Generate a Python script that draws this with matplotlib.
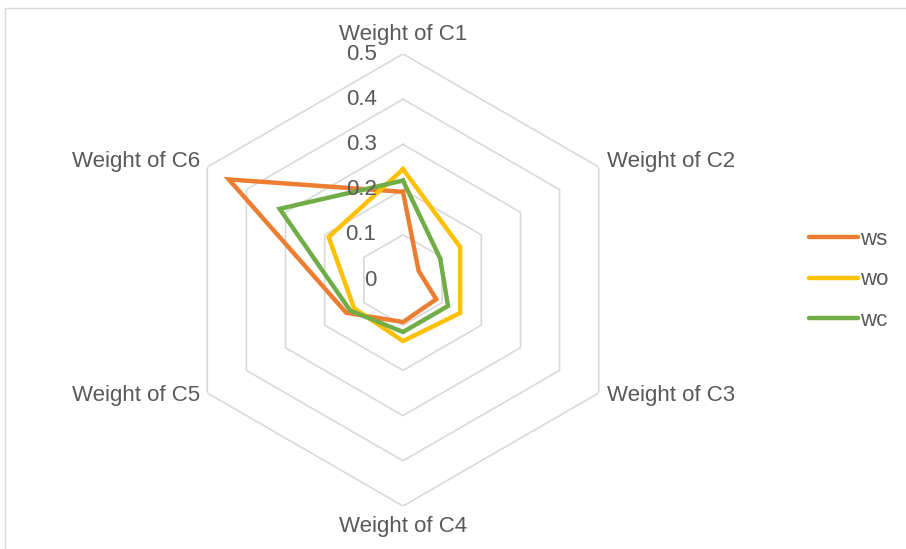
import numpy as np
import matplotlib
matplotlib.use("Agg")
import matplotlib.pyplot as plt
from matplotlib.patches import Rectangle

plt.rcParams['font.family'] = ['Liberation Sans', 'DejaVu Sans']

categories = ['Weight of C1', 'Weight of C2', 'Weight of C3',
              'Weight of C4', 'Weight of C5', 'Weight of C6']
ws = [0.195, 0.04, 0.085, 0.093, 0.145, 0.445]
wo = [0.245, 0.146, 0.146, 0.135, 0.125, 0.19]
wc = [0.22, 0.095, 0.115, 0.115, 0.135, 0.315]
ticks = [0, 0.1, 0.2, 0.3, 0.4, 0.5]
tick_labels = ['0', '0.1', '0.2', '0.3', '0.4', '0.5']

series = [('ws', ws, '#ED7D31'), ('wo', wo, '#FFC000'), ('wc', wc, '#70AD47')]
grey_text = '#595959'

fig = plt.figure(figsize=(9.06, 5.49), dpi=100)
# chart border (only top/left visible in the reference)
fig.patches.append(Rectangle((5 / 906, -0.1), 1.2, 1.1 - 8 / 549,
                             transform=fig.transFigure, fill=False,
                             edgecolor='#D9D9D9', linewidth=1))

cx, cy, R = 403 / 906, 1 - 280 / 549, 226
ax = fig.add_axes([cx - R / 906, cy - R / 549, 2 * R / 906, 2 * R / 549],
                  projection='polar')
ax.set_theta_zero_location('N')
ax.set_theta_direction(-1)
ax.set_ylim(0, 0.5)
ax.grid(False)
ax.spines['polar'].set_visible(False)
ax.set_xticks([])
ax.set_yticks([])
ax.patch.set_alpha(0)

n = len(categories)
angles = np.linspace(0, 2 * np.pi, n, endpoint=False)
closed = np.append(angles, angles[0])

# hexagonal gridlines
for t in ticks[1:]:
    ax.plot(closed, [t] * (n + 1), color='#D9D9D9', linewidth=1.2, zorder=1)

for name, vals, col in series:
    ax.plot(closed, vals + vals[:1], color=col, linewidth=3.2, label=name,
            solid_joinstyle='miter', zorder=3)

# radial value labels left of the C1 axis
for t, lab in zip(ticks, tick_labels):
    ax.annotate(lab, xy=(0, t), xytext=(-19, 0), textcoords='offset points',
                ha='right', va='center', fontsize=16, color=grey_text, zorder=4)

# category labels
offsets = [(0, 14, 'center', 'center'), (6, 4, 'left', 'center'),
           (6, -2, 'left', 'center'), (0, -15, 'center', 'center'),
           (-5, -2, 'right', 'center'), (-5, 4, 'right', 'center')]
for a, lab, (dx, dy, ha, va) in zip(angles, categories, offsets):
    ax.annotate(lab, xy=(a, 0.5), xytext=(dx, dy), textcoords='offset points',
                ha=ha, va=va, fontsize=16, color=grey_text)

leg = fig.legend(loc='center left', bbox_to_anchor=(0.871, 0.49), frameon=False,
                 fontsize=16, handlelength=2.2, handletextpad=0.1,
                 labelspacing=0.87, labelcolor=grey_text)
for h in leg.get_lines():
    h.set_linewidth(3.2)
    h.set_solid_capstyle('round')

fig.savefig('out.png', dpi=100)
